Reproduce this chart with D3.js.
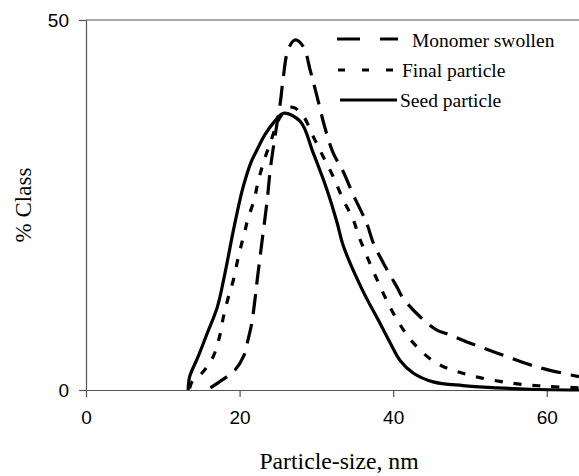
<!DOCTYPE html>
<html>
<head>
<meta charset="utf-8">
<script src="https://cdn.jsdelivr.net/npm/d3@7"></script>
<style>
  html, body { margin: 0; padding: 0; background: #fff; }
  svg { display: block; }
</style>
</head>
<body>
<svg id="chart" width="579" height="476"></svg>
<script>
// Particle size distributions (% class vs particle size in nm)
const seedSize = [13.3, 13.5, 14.6, 15.8, 17.1, 18.1, 19.2, 20.3, 20.9, 21.5, 22.2, 23.3, 24.4, 25.7, 27.9, 29.6, 31.4, 32.7, 33.5, 36, 38.3, 39.6, 40.9, 42.6, 45.2, 49.1, 53.5, 57.8, 64.2];
const seedPct  = [0, 1.8, 4.5, 7.7, 11.2, 15.8, 21.6, 26.8, 29, 30.8, 32.3, 34.5, 36.1, 37.4, 36.3, 32, 27, 22.6, 19.5, 13.5, 9, 6.4, 4, 2.3, 1.1, 0.6, 0.3, 0.1, 0];

const finalSize = [13.5, 13.8, 15.1, 16.2, 16.8, 17.5, 17.9, 18.5, 19.2, 19.8, 20.3, 20.7, 21.1, 21.9, 22.4, 23.1, 24, 25.3, 26.6, 27.9, 29.8, 30.9, 32.2, 33.5, 34.8, 35.7, 38.7, 40.5, 42.6, 45.7, 50, 55.6, 60, 64.2];
const finalPct  = [0.2, 1.1, 2.3, 3.8, 5.1, 7.7, 9.9, 12.4, 14.9, 17.8, 19.9, 21.5, 23.2, 25.7, 28.1, 30.7, 33.4, 36.9, 38.2, 37.6, 33.8, 31.5, 28.8, 25.7, 23, 20.3, 13.1, 9.5, 6.4, 3.6, 2, 0.9, 0.5, 0.3];

const swollenSize = [16.2, 17.8, 19.4, 20.5, 21.1, 21.6, 22, 22.3, 22.9, 23.6, 24, 24.6, 25.3, 25.7, 26.3, 27.2, 28.3, 29.2, 30.1, 31.1, 32.2, 33.5, 34.8, 36.6, 37.4, 38.7, 40.5, 41.3, 43.5, 45.7, 47, 49.6, 53.5, 58.8, 64.2];
const swollenPct  = [0.3, 1.4, 2.7, 4.5, 6.8, 9.1, 12.2, 14.9, 19.9, 25.7, 29.8, 34.2, 38.8, 42.3, 45.9, 47.3, 46.4, 43.2, 39.6, 35.5, 32, 29.5, 26.4, 22.4, 19.9, 17.2, 13.9, 12.4, 9.9, 8.1, 7.6, 6.5, 5, 3.1, 1.8];

const xTicks = [0, 20, 40, 60];
const yTicks = [0, 50];

const legendNames = ["Monomer swollen", "Final particle", "Seed particle"];

const svg = d3.select("#chart");

const x = d3.scaleLinear().domain([0, 64.2]).range([86, 579]);
const y = d3.scaleLinear().domain([0, 50]).range([390, 20]);

const axisColor = "#555";

// plot frame top edge
svg.append("line")
  .attr("x1", x(0)).attr("x2", 579)
  .attr("y1", y(50)).attr("y2", y(50))
  .attr("stroke", axisColor).attr("stroke-width", 1.2);

// x axis
const gx = svg.append("g")
  .attr("transform", `translate(0,${y(0)})`)
  .call(d3.axisBottom(x).tickValues(xTicks).tickSize(7).tickSizeOuter(0).tickPadding(14));
gx.select(".domain").attr("stroke", axisColor).attr("stroke-width", 1.2);
gx.selectAll(".tick line").attr("stroke", axisColor).attr("stroke-width", 1.2);
gx.selectAll(".tick text")
  .attr("font-family", "'Liberation Sans', Arial, sans-serif")
  .attr("font-size", 19).attr("fill", "#000");

// y axis
const gy = svg.append("g")
  .attr("transform", `translate(${x(0)},0)`)
  .call(d3.axisLeft(y).tickValues(yTicks).tickSize(7).tickSizeOuter(0).tickPadding(10));
gy.select(".domain").attr("stroke", axisColor).attr("stroke-width", 1.2);
gy.selectAll(".tick line").attr("stroke", axisColor).attr("stroke-width", 1.2);
gy.selectAll(".tick text")
  .attr("font-family", "'Liberation Sans', Arial, sans-serif")
  .attr("font-size", 19).attr("fill", "#000");

// axis titles
svg.append("text")
  .attr("x", 339).attr("y", 469)
  .attr("text-anchor", "middle")
  .attr("font-family", "'Liberation Serif', 'Times New Roman', serif")
  .attr("font-size", 23.7)
  .text("Particle-size, nm");

svg.append("text")
  .attr("transform", "translate(31,205) rotate(-90)")
  .attr("text-anchor", "middle")
  .attr("font-family", "'Liberation Serif', 'Times New Roman', serif")
  .attr("font-size", 23)
  .text("% Class");

// curves
const line = d3.line()
  .x(d => x(d[0]))
  .y(d => y(d[1]))
  .curve(d3.curveCatmullRom.alpha(0.5));

const series = [
  { sizes: swollenSize, pct: swollenPct, dash: "20,10" },
  { sizes: finalSize, pct: finalPct, dash: "8,11" },
  { sizes: seedSize, pct: seedPct, dash: null }
];

svg.append("clipPath").attr("id", "plotClip")
  .append("rect").attr("x", x(0)).attr("y", 0).attr("width", 579 - x(0)).attr("height", y(0) + 2);

const curves = svg.append("g").attr("clip-path", "url(#plotClip)");
series.forEach(s => {
  curves.append("path")
    .datum(d3.zip(s.sizes, s.pct))
    .attr("d", line)
    .attr("fill", "none")
    .attr("stroke", "#000")
    .attr("stroke-width", 3.2)
    .attr("stroke-dasharray", s.dash);
});

// legend
const legend = [
  { name: legendNames[0], y: 39, x1: 337, x2: 398, tx: 412, ty: 47, dash: "23,20" },
  { name: legendNames[1], y: 70, x1: 338, x2: 393, tx: 402, ty: 77, dash: "7,17" },
  { name: legendNames[2], y: 100, x1: 340, x2: 397, tx: 400, ty: 107, dash: null }
];
const lg = svg.append("g");
legend.forEach(d => {
  lg.append("line")
    .attr("x1", d.x1).attr("x2", d.x2)
    .attr("y1", d.y).attr("y2", d.y)
    .attr("stroke", "#000").attr("stroke-width", 3.2)
    .attr("stroke-dasharray", d.dash);
  lg.append("text")
    .attr("x", d.tx).attr("y", d.ty)
    .attr("font-family", "'Liberation Serif', 'Times New Roman', serif")
    .attr("font-size", 19.5)
    .text(d.name);
});
</script>
</body>
</html>
